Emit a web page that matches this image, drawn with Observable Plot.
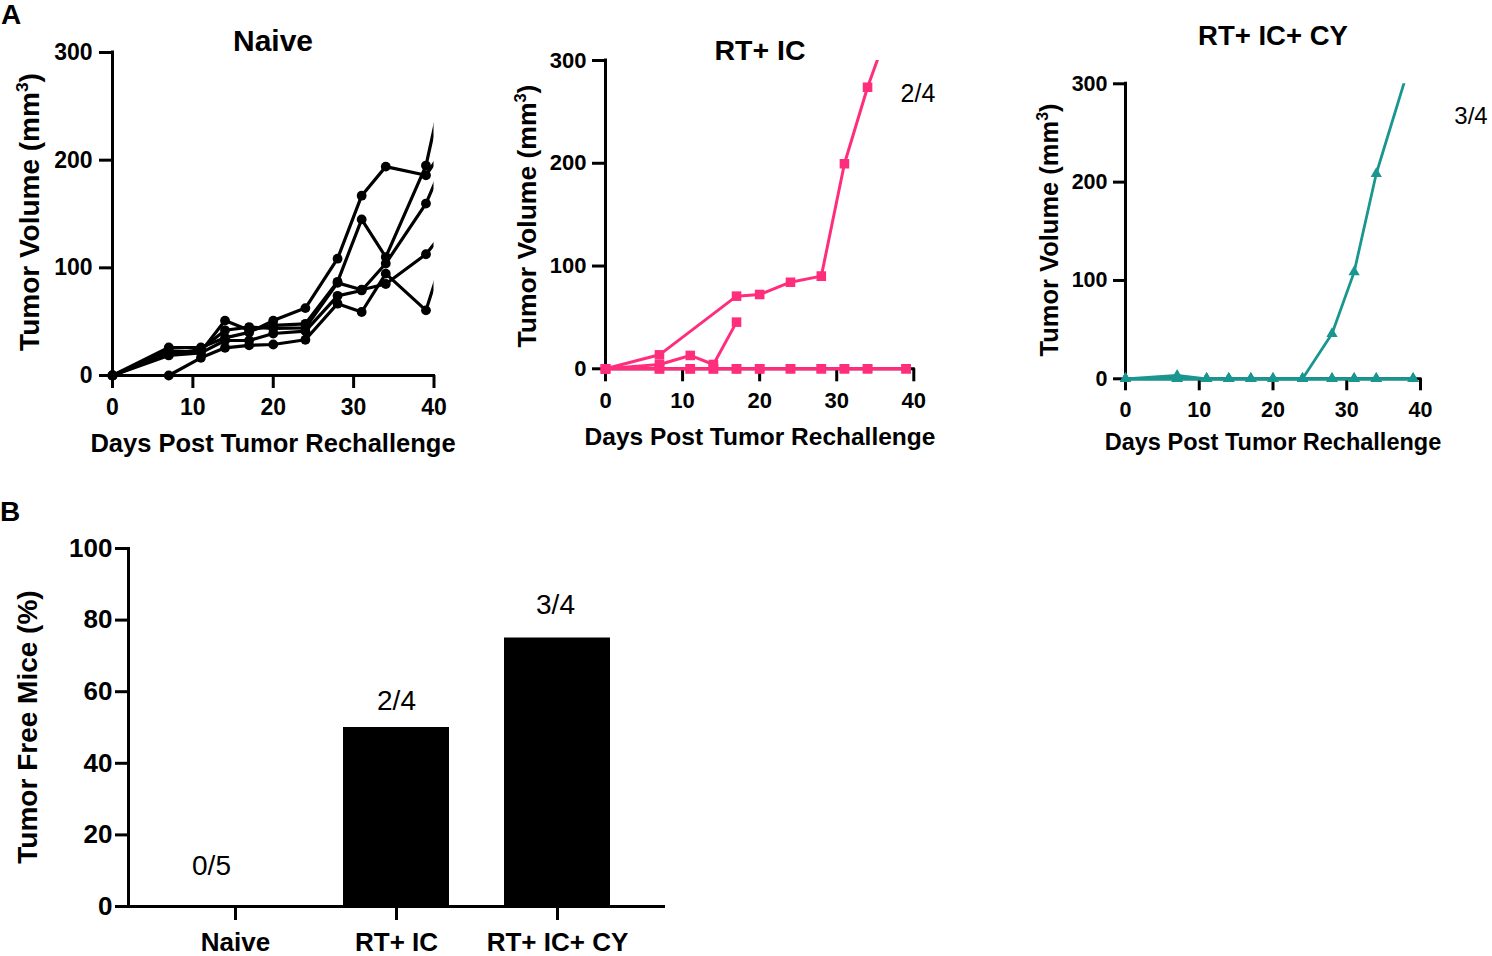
<!DOCTYPE html>
<html>
<head>
<meta charset="utf-8">
<script src="https://cdn.jsdelivr.net/npm/d3@7"></script>
<script src="https://cdn.jsdelivr.net/npm/@observablehq/plot@0.6"></script>
<style>
  body { margin: 0; background: #fff; }
  #fig { position: relative; width: 1492px; height: 956px; overflow: hidden; background: #fff;
         font-family: "Liberation Sans", Arial, Helvetica, sans-serif; color: #000; }
  .abs { position: absolute; white-space: nowrap; line-height: 1; }
  .pl { position: absolute; }
  sup { font-size: 0.62em; line-height: 0; vertical-align: 0.62em; }
</style>
</head>
<body>
<div id="fig"></div>
<script>
// ---------------- DATA ----------------
// Panel A, Naive (tumor volume, mm^3); last day lies beyond the 40-day axis and is clipped
const naiveDays = [0, 7, 11, 14, 17, 20, 24, 28, 31, 34, 39, 42];
const naiveM1 = [0, 26, 26, 35, 40, 51, 62.6, 108.5, 167, 194, 186, 219];
const naiveM2 = [0, 23, 22, 51, 42, 46.5, 48, 87, 145, 110, 195, 297];
const naiveM3 = [0, 20, 24, 42, 45, 43.7, 44.3, 86, 79.7, 85, 112.6, 141];
const naiveM4 = [0, 18.6, 21, 32.5, 32.5, 39, 41.2, 74, 79, 104, 159.7, 212];
const naiveM5 = [0, 0, 16.4, 25.7, 28, 28.8, 33.2, 66.7, 59, 94.6, 60.5, 131];

// Panel A, RT+ IC
const rtDays = [0, 7, 11, 14, 17, 20, 24, 28, 31, 34, 39];
const rtM1 = [0, 13.6, null, null, 70.7, 72.3, 84.3, 90.2, 199.5, 274, 378];
const rtM2 = [0, 4.2, 13, 4.2, 45.4, null, null, null, null, null, null];
const rtM3 = [0, 0, 0, 0, 0, 0, 0, 0, 0, 0, 0];
const rtM4 = [0, 0, 0, 0, 0, 0, 0, 0, 0, 0, 0];

// Panel A, RT+ IC+ CY
const cyDays = [0, 7, 11, 14, 17, 20, 24, 28, 31, 34, 39];
const cyM1 = [0, 3.4, 0, 0, 0, 0, 0, 45.8, 108.5, 208.5, 331];
const cyM2 = [0, 0, 0, 0, 0, 0, 0, 0, 0, 0, 0];
const cyM3 = [0, 0, 0, 0, 0, 0, 0, 0, 0, 0, 0];
const cyM4 = [0, 0, 0, 0, 0, 0, 0, 0, 0, 0, 0];

const xTicks = [0, 10, 20, 30, 40];
const yTicks = [0, 100, 200, 300];

// Panel B
const groups = ["Naive", "RT+ IC", "RT+ IC+ CY"];
const tumorFree = [0, 50, 75];
const counts = ["0/5", "2/4", "3/4"];
const barTicks = [0, 20, 40, 60, 80, 100];

// ---------------- HELPERS ----------------
const FONT = '"Liberation Sans", Arial, Helvetica, sans-serif';
const fig = document.getElementById("fig");

function txt(html, cx, cy, size, {bold = true, rot = false} = {}) {
  const d = document.createElement("div");
  d.className = "abs";
  d.innerHTML = html;
  d.style.left = cx + "px";
  d.style.top = cy + "px";
  d.style.fontSize = size + "px";
  d.style.fontWeight = bold ? "bold" : "normal";
  d.style.transform = "translate(-50%,-50%)" + (rot ? " rotate(-90deg)" : "");
  fig.appendChild(d);
}

function place(svg, x, y) {
  const w = document.createElement("div");
  w.className = "pl";
  w.style.left = x + "px";
  w.style.top = y + "px";
  w.appendChild(svg);
  fig.appendChild(w);
}

function toRows(days, series) {
  const out = [];
  series.forEach((vals, k) => vals.forEach((v, i) => {
    if (v != null) out.push({mouse: k, day: days[i], vol: v});
  }));
  return out;
}

function linePanel(cfg) {
  const {box, xr, yr, frame, rows, color, symbol, r, sw, tickSize, tickLabelDy, tickLabelDx, fs} = cfg;
  const plot = Plot.plot({
    width: box.w, height: box.h,
    marginLeft: frame.l - box.x, marginRight: box.x + box.w - frame.r,
    marginTop: frame.t - box.y, marginBottom: box.y + box.h - frame.b,
    x: {domain: [0, 40], range: [xr[0] - box.x, xr[1] - box.x], axis: null},
    y: {domain: [0, 300], range: [yr[0] - box.y, yr[1] - box.y], axis: null},
    style: {background: "transparent", fontFamily: FONT, overflow: "visible"},
    marks: [
      Plot.ruleY([0], {x1: 0, x2: 40, stroke: "#000", strokeWidth: 3, strokeLinecap: "square"}),
      Plot.ruleX([0], {y1: 0, y2: 300, stroke: "#000", strokeWidth: 3, strokeLinecap: "square"}),
      Plot.ruleX(xTicks, {x: d => d, y1: 0, y2: 0, insetBottom: -tickSize, stroke: "#000", strokeWidth: 3}),
      Plot.ruleY(yTicks, {y: d => d, x1: 0, x2: 0, insetLeft: -tickSize, stroke: "#000", strokeWidth: 3}),
      Plot.text(xTicks, {x: d => d, y: 0, dy: tickLabelDy, text: d => String(d), fontSize: fs, fontWeight: "bold", fill: "#000"}),
      Plot.text(yTicks, {x: 0, y: d => d, dx: tickLabelDx, textAnchor: "end", text: d => String(d), fontSize: fs, fontWeight: "bold", fill: "#000"}),
      Plot.line(rows, {x: "day", y: "vol", z: "mouse", stroke: color, strokeWidth: sw, clip: true}),
      Plot.dot(rows, {x: "day", y: "vol", fill: color, stroke: null, symbol, r, clip: true})
    ]
  });
  place(plot, box.x, box.y);
}

// ---------------- PANEL A: Naive ----------------
linePanel({
  box: {x: 0, y: 0, w: 480, h: 470},
  xr: [112, 433.5], yr: [375, 52],
  frame: {l: 100, r: 433.5, t: 40, b: 381},
  rows: toRows(naiveDays, [naiveM1, naiveM2, naiveM3, naiveM4, naiveM5]),
  color: "#000", symbol: "circle", r: 4.9, sw: 3.2,
  tickSize: 13, tickLabelDy: 32, tickLabelDx: -20, fs: 23
});
txt("Naive", 273, 41, 30);
txt("Days Post Tumor Rechallenge", 273, 444, 25.5);
txt("Tumor Volume (mm<sup>3</sup>)", 30, 212, 28, {rot: true});

// ---------------- PANEL A: RT+ IC ----------------
linePanel({
  box: {x: 480, y: 0, w: 500, h: 470},
  xr: [605, 913.3], yr: [368.3, 60],
  frame: {l: 595, r: 913.3, t: 60, b: 375},
  rows: toRows(rtDays, [rtM1, rtM2, rtM3, rtM4]),
  color: "#FF2E7C", symbol: "square", r: 5.4, sw: 3,
  tickSize: 13, tickLabelDy: 32, tickLabelDx: -19, fs: 22
});
txt("RT+ IC", 760, 50, 28.5);
txt("Days Post Tumor Rechallenge", 760, 437, 24.5);
txt("Tumor Volume (mm<sup>3</sup>)", 527, 216, 26.5, {rot: true});
txt("2/4", 918, 93, 25, {bold: false});

// ---------------- PANEL A: RT+ IC+ CY ----------------
linePanel({
  box: {x: 980, y: 0, w: 512, h: 470},
  xr: [1125, 1420], yr: [378.3, 83.3],
  frame: {l: 1115, r: 1420, t: 83.3, b: 385},
  rows: toRows(cyDays, [cyM1, cyM2, cyM3, cyM4]),
  color: "#1A9690", symbol: "triangle", r: 4.2, sw: 2.8,
  tickSize: 12, tickLabelDy: 31, tickLabelDx: -18, fs: 21.5
});
txt("RT+ IC+ CY", 1273, 36, 27.5);
txt("Days Post Tumor Rechallenge", 1273, 443, 23.5);
txt("Tumor Volume (mm<sup>3</sup>)", 1050, 230, 25.5, {rot: true});
txt("3/4", 1471, 116, 24, {bold: false});

txt("A", 11, 15, 28);

// ---------------- PANEL B ----------------
const barRows = groups.map((g, i) => ({group: g, pct: tumorFree[i], label: counts[i]}));
const bar = Plot.plot({
  width: 700, height: 476,
  marginLeft: 128, marginRight: 35, marginTop: 68, marginBottom: 50,
  x: {domain: groups, paddingInner: 0.34, paddingOuter: 0.33},
  y: {domain: [0, 100]},
  style: {background: "transparent", fontFamily: FONT, overflow: "visible"},
  marks: [
    Plot.barY(barRows, {x: "group", y: "pct", fill: "#000"}),
    Plot.axisY({ticks: barTicks, tickSize: 13, strokeWidth: 3, tickPadding: 3, fontSize: 26, fontWeight: "bold", fill: "#000", stroke: "#000", label: null}),
    Plot.axisX({tickSize: 14, strokeWidth: 3, tickPadding: 12, fontSize: 26, fontWeight: "bold", fill: "#000", stroke: "#000", label: null}),
    Plot.frame({anchor: "left", stroke: "#000", strokeWidth: 3}),
    Plot.ruleY([0], {stroke: "#000", strokeWidth: 3}),
    Plot.text(barRows.slice(0, 1), {x: "group", y: "pct", text: "label", dx: -24, dy: -40, fontSize: 28, fill: "#000"}),
    Plot.text(barRows.slice(1, 2), {x: "group", y: "pct", text: "label", dy: -26, fontSize: 28, fill: "#000"}),
    Plot.text(barRows.slice(2, 3), {x: "group", y: "pct", text: "label", dx: -2, dy: -33, fontSize: 28, fill: "#000"})
  ]
});
place(bar, 0, 480);
txt("B", 10, 512, 28);
txt("Tumor Free Mice (%)", 28, 727, 28, {rot: true});
</script>
</body>
</html>
